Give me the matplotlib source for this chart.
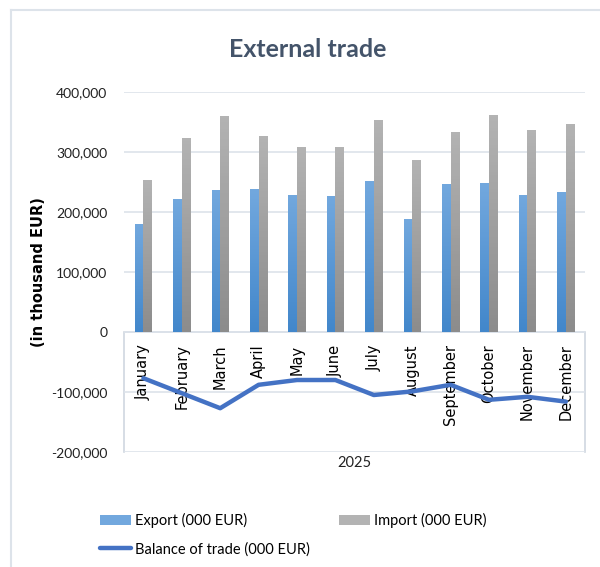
import matplotlib
matplotlib.use("Agg")
import matplotlib.pyplot as plt
import numpy as np
from matplotlib.ticker import FuncFormatter

months = ['January', 'February', 'March', 'April', 'May', 'June', 'July',
          'August', 'September', 'October', 'November', 'December']
export = [180000, 222000, 237000, 238000, 229000, 227000, 251000,
          188000, 247000, 249000, 229000, 233000]
imports = [254000, 323000, 360000, 326000, 308000, 308000, 353000,
           286000, 333000, 362000, 336000, 347000]
balance = [-77000, -102000, -127000, -88000, -80000, -80000, -105000,
           -99000, -88000, -113000, -108000, -116000]
year = '2025'

narrow = ['Lato', 'DejaVu Sans']

fig = plt.figure(figsize=(6, 5.67), dpi=100)
ax = fig.add_axes([0.207, 0.2028, 0.768, 0.635])

x = np.arange(len(months))
w = 0.226


def grad_bars(xs, vals, top_col, bot_col, label):
    bars = ax.bar(xs, vals, w, color=top_col, label=label, zorder=2)
    cmap = matplotlib.colors.LinearSegmentedColormap.from_list('g', [bot_col, top_col])
    for b in bars:
        x0, y0 = b.get_x(), b.get_y()
        im = ax.imshow(np.linspace(0, 1, 64).reshape(-1, 1), cmap=cmap, origin='lower',
                       extent=[x0, x0 + b.get_width(), y0, y0 + b.get_height()],
                       aspect='auto', zorder=2.1)
        im.set_clip_path(b)
    return bars


b1 = grad_bars(x - w / 2, export, '#72a8de', '#4287cb', 'Export (000 EUR)')
b2 = grad_bars(x + w / 2, imports, '#b3b3b3', '#8c8c8c', 'Import (000 EUR)')
l1, = ax.plot(x, balance, color='#4472c4', lw=3.2, solid_capstyle='round',
              zorder=5, label='Balance of trade (000 EUR)')

ax.set_xlim(-0.5, len(months) - 0.5)
ax.set_ylim(-200000, 400000)
ax.set_yticks(np.arange(-200000, 400001, 100000))
ax.yaxis.set_major_formatter(FuncFormatter(lambda v, p: f'{int(v):,}'))
ax.grid(axis='y', color='#dde3ea', lw=1.2, zorder=0)
ax.set_xticks([])
ax.tick_params(axis='y', length=0, pad=12, labelsize=10, labelcolor='#222222')
for t in ax.get_yticklabels():
    t.set_family(narrow)
for s in ax.spines.values():
    s.set_visible(False)

# category box
bc = '#d0d7e0'
ax.plot([-0.5, len(months) - 0.5], [0, 0], color=bc, lw=1.2, zorder=1)
ax.plot([-0.5, -0.5], [-200000, 0], color=bc, lw=1.2, zorder=1, clip_on=False)
ax.plot([len(months) - 0.5] * 2, [-200000, 0], color=bc, lw=1.2, zorder=1, clip_on=False)

for i, m in enumerate(months):
    ax.annotate(m, (i, 0), xytext=(0, -9), textcoords='offset points',
                rotation=90, ha='center', va='top', fontsize=10.5,
                color='black', zorder=4)
ax.annotate(year, (0.5, -200000), xycoords=('axes fraction', 'data'),
            xytext=(0, -3), textcoords='offset points', ha='center', va='top',
            fontsize=10.5, family=narrow, color='#222222')

ax.set_ylabel('(in thousand EUR)', fontsize=10.5, fontweight='bold')
ax.yaxis.set_label_coords(-0.17, 0.5)

fig.text(0.512, 0.912, 'External trade', ha='center', va='center', fontsize=18,
         fontweight='bold', color='#44546a', family=narrow)

fig.legend([b1, l1, b2], ['Export (000 EUR)', 'Balance of trade (000 EUR)', 'Import (000 EUR)'],
           ncol=2, loc='upper left', bbox_to_anchor=(100 / 600, 1 - 513 / 567), frameon=False,
           prop={'family': narrow, 'size': 10.5}, handlelength=2.1, handleheight=0.6,
           columnspacing=2.0, labelspacing=0.95, handletextpad=0.3,
           borderpad=0, borderaxespad=0)

# outer chart border
fig.add_artist(plt.Line2D([11 / 600, 11 / 600], [0, 1 - 10 / 567], color='#dde3ea', lw=1.5))
fig.add_artist(plt.Line2D([11 / 600, 1], [1 - 10 / 567, 1 - 10 / 567], color='#dde3ea', lw=1.5))

fig.savefig('out.png', dpi=100)
